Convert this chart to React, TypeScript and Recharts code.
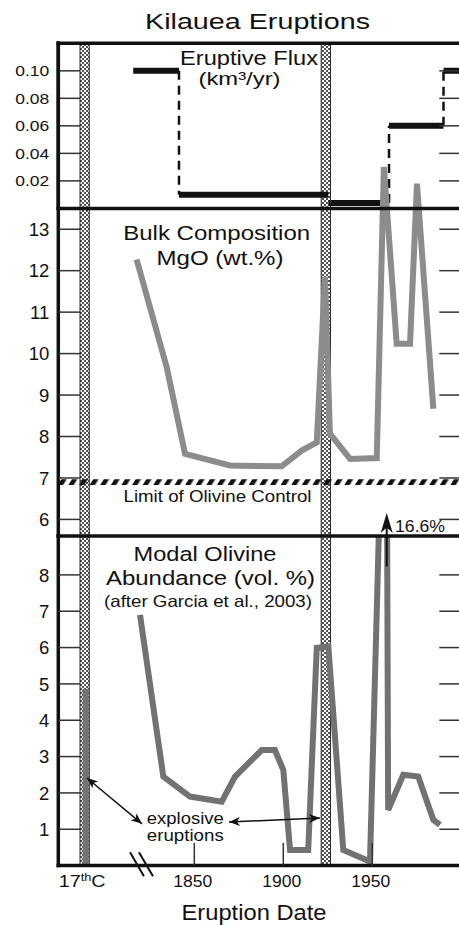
import { LineChart, Line, XAxis, YAxis, ReferenceLine, ReferenceArea } from "recharts";

// eruptive flux, km3/yr (step function)
const fluxStart = [1815.7, 1841.4, 1925.3, 1959.4, 1990.0];
const fluxEnd = [1841.4, 1925.3, 1956.0, 1990.0, 2000];
const fluxRate = [0.1, 0.01, 0.004, 0.06, 0.1];
const jumpYear = [1841.4, 1959.4, 1990.0];
const jumpFrom = [0.1, 0.004, 0.06];
const jumpTo = [0.01, 0.06, 0.1];

// bulk composition MgO (wt.%)
const mgoYear = [1817.6, 1834.5, 1844.8, 1870.0, 1899.1, 1910.3, 1918.8, 1923.4, 1926.2, 1937.5, 1952.5, 1956.5, 1963.7, 1971.2, 1975.1, 1984.3];
const mgoValue = [12.27, 9.67, 7.58, 7.3, 7.28, 7.66, 7.86, 11.85, 8.07, 7.46, 7.48, 14.5, 10.24, 10.24, 14.1, 8.67];

// modal olivine abundance (vol.%)
const olivYear = [1819.5, 1832.6, 1847.6, 1865.4, 1872.9, 1887.9, 1895.3, 1900.0, 1903.8, 1914.0, 1918.8, 1925.3, 1933.7, 1948.7, 1957.8, 1958.9, 1967.4, 1975.8, 1984.3, 1988.0];
const olivValue = [6.9, 2.45, 1.9, 1.76, 2.45, 3.18, 3.18, 2.63, 0.43, 0.43, 5.99, 6.03, 0.43, 0.11, 16.6, 1.53, 2.5, 2.45, 1.26, 1.12];
const c17Year = 1789;
const c17Olivine = 4.87;

// explosive eruptions (stippled bands)
const explosiveYear = [1788.4, 1923.9];
const olivineLimit = 6.9;

const fluxTicks = [0.02, 0.04, 0.06, 0.08, 0.1];
const mgoTicks = [6, 7, 8, 9, 10, 11, 12, 13];
const olivTicks = [1, 2, 3, 4, 5, 6, 7, 8];
const yearTicks = [1787, 1850, 1900, 1950];

const fluxData = fluxStart.flatMap((s, i) => [
  { year: s, v: fluxRate[i] },
  { year: fluxEnd[i], v: fluxRate[i] },
  { year: fluxEnd[i], v: null },
]);
const jumpData = jumpYear.flatMap((y, i) => [
  { year: y, v: jumpFrom[i] },
  { year: y, v: jumpTo[i] },
  { year: y, v: null },
]);
const mgoData = mgoYear.map((year, i) => ({ year, v: mgoValue[i] }));
const olivData = olivYear.map((year, i) => ({ year, v: olivValue[i] }));
const c17Data = [{ year: c17Year, v: 0 }, { year: c17Year, v: c17Olivine }];

const W = 470;
const H = 925;
const LEFT = 58.3;
const RIGHT = 461.3;
const TOP = 43.3;
const DIV1 = 208.4;
const DIV2 = 536;
const BOTTOM = 865.6;
const X_DOMAIN: [number, number] = [1773.6, 2000];
const FONT = "'Liberation Sans', Arial, Helvetica, sans-serif";
const INK = "#111";
const BAND_HALF = 2.6;

function YTick(props: any) {
  const { y, payload, digits, size, len } = props;
  return (
    <g>
      <line x1={LEFT} x2={LEFT + 22} y1={y} y2={y} stroke="#333" strokeWidth={1.5} />
      <line x1={RIGHT - 22} x2={RIGHT} y1={y} y2={y} stroke="#333" strokeWidth={1.5} />
      <text
        x={LEFT - 9}
        y={y}
        dy="0.36em"
        textAnchor="end"
        fontSize={size}
        fontFamily={FONT}
        fill={INK}
        textLength={len}
        lengthAdjust={len ? "spacingAndGlyphs" : undefined}
      >
        {payload.value.toFixed(digits)}
      </text>
    </g>
  );
}

function XTick(props: any) {
  const { x, y, payload } = props;
  const v = payload.value;
  if (v < 1800) {
    return (
      <text x={x} y={y + 21.4} textAnchor="middle" fontSize={17} fontFamily={FONT} fill={INK} textLength={47} lengthAdjust="spacingAndGlyphs">
        17<tspan dy={-6} fontSize={11}>th</tspan><tspan dy={6}>C</tspan>
      </text>
    );
  }
  return (
    <g>
      <line x1={x} x2={x} y1={y - 22.7} y2={y} stroke="#333" strokeWidth={1.5} />
      <text x={x - 1.5} y={y + 21.4} textAnchor="middle" fontSize={17} fontFamily={FONT} fill={INK} textLength={39} lengthAdjust="spacingAndGlyphs">
        {v}
      </text>
    </g>
  );
}

function head(tx: number, ty: number, fx: number, fy: number, len: number, half: number) {
  const d = Math.hypot(tx - fx, ty - fy);
  const ux = (tx - fx) / d;
  const uy = (ty - fy) / d;
  const bx = tx - ux * len;
  const by = ty - uy * len;
  const nx = tx - ux * len * 0.72;
  const ny = ty - uy * len * 0.72;
  return `${tx},${ty} ${bx - uy * half},${by + ux * half} ${nx},${ny} ${bx + uy * half},${by - ux * half}`;
}

const DoubleArrow = (p: any) => (
  <g>
    <line x1={p.x1} y1={p.y1} x2={p.x2} y2={p.y2} stroke={INK} strokeWidth={1.5} />
    <polygon points={head(p.x1, p.y1, p.x2, p.y2, 11, 4.5)} fill={INK} />
    <polygon points={head(p.x2, p.y2, p.x1, p.y1, 11, 4.5)} fill={INK} />
  </g>
);

const PeakArrow = (p: any) => (
  <g>
    <line x1={p.x1} y1={p.y1} x2={p.x2} y2={p.y2 + 8} stroke={INK} strokeWidth={2} />
    <polygon points={head(p.x2, p.y2, p.x1, p.y1, 20, 6)} fill={INK} />
    <text x={p.x2 + 8.3} y={p.y2 + 18.4} fontSize={17} fontFamily={FONT} fill={INK} textLength={50} lengthAdjust="spacingAndGlyphs">
      16.6%
    </text>
  </g>
);

function Label({ x, y, size, len, children }: any) {
  return (
    <text x={x} y={y} fontSize={size} textAnchor="middle" fontFamily={FONT} fill={INK} textLength={len} lengthAdjust="spacingAndGlyphs">
      {children}
    </text>
  );
}

const border = { stroke: INK, strokeWidth: 3.5, strokeLinecap: "square" as const };

const layer: React.CSSProperties = { position: "absolute", left: 0, top: 0 };

export default function App() {
  return (
    <div style={{ position: "absolute", left: 0, top: 0, width: 459, height: 925, overflow: "hidden", background: "#fff" }}>
      <svg width={0} height={0} style={{ position: "absolute" }}>
        <defs>
          <pattern id="stipple" patternUnits="userSpaceOnUse" width={4} height={4}>
            <rect width={4} height={4} fill="#fff" />
            <circle cx={1} cy={1} r={1} fill="#1a1a1a" />
            <circle cx={3} cy={3} r={1} fill="#1a1a1a" />
          </pattern>
          <pattern id="hatch" patternUnits="userSpaceOnUse" width={9} height={10} patternTransform="rotate(32)">
            <rect x={0} y={0} width={4.5} height={10} fill={INK} />
          </pattern>
        </defs>
      </svg>

      {/* explosive eruption bands, bottom layer across all panels */}
      <div style={layer}>
        <LineChart width={W} height={H} margin={{ top: TOP, right: W - RIGHT, bottom: H - BOTTOM, left: LEFT }}>
          <XAxis type="number" dataKey="year" domain={X_DOMAIN} allowDataOverflow hide />
          <YAxis type="number" domain={[0, 1]} allowDataOverflow hide />
          {explosiveYear.map((yr, i) => (
            <ReferenceArea
              key={i}
              x1={yr - BAND_HALF}
              x2={yr + BAND_HALF}
              fill="url(#stipple)"
              fillOpacity={1}
              stroke="#222"
              strokeWidth={1}
            />
          ))}
        </LineChart>
      </div>

      {/* eruptive flux */}
      <div style={layer}>
        <LineChart width={W} height={H} margin={{ top: TOP, right: W - RIGHT, bottom: H - DIV1, left: 0 }}>
          <XAxis type="number" dataKey="year" domain={X_DOMAIN} allowDataOverflow hide />
          <YAxis
            type="number"
            domain={[0, 0.12]}
            allowDataOverflow
            width={LEFT}
            ticks={fluxTicks}
            interval={0}
            tickSize={0}
            tickMargin={0}
            tickLine={false}
            axisLine={border}
            tick={<YTick digits={2} size={14.5} len={34} />}
          />
          <Line data={jumpData} dataKey="v" type="linear" stroke={INK} strokeWidth={2.5} strokeDasharray="9 6" dot={false} activeDot={false} isAnimationActive={false} />
          <Line data={fluxData} dataKey="v" type="linear" stroke={INK} strokeWidth={6} dot={false} activeDot={false} isAnimationActive={false} />
        </LineChart>
      </div>

      {/* bulk MgO */}
      <div style={layer}>
        <LineChart width={W} height={H} margin={{ top: TOP, right: W - RIGHT, bottom: H - DIV2, left: 0 }}>
          <XAxis type="number" dataKey="year" domain={X_DOMAIN} allowDataOverflow hide />
          <YAxis
            type="number"
            domain={[5.6, 17.485]}
            allowDataOverflow
            width={LEFT}
            ticks={mgoTicks}
            interval={0}
            tickSize={0}
            tickMargin={0}
            tickLine={false}
            axisLine={border}
            tick={<YTick digits={0} size={18.5} />}
          />
          <ReferenceArea y1={olivineLimit - 0.07} y2={olivineLimit + 0.07} fill="url(#hatch)" fillOpacity={1} stroke="none" />
          <Line data={mgoData} dataKey="v" type="linear" stroke="#8c8c8c" strokeWidth={6} dot={false} activeDot={false} isAnimationActive={false} />
          <ReferenceLine y={17.485} {...border} />
          <ReferenceLine y={13.5} {...border} />
        </LineChart>
      </div>

      {/* modal olivine */}
      <div style={layer}>
        <LineChart width={W} height={H} margin={{ top: DIV2, right: W - RIGHT, bottom: 0, left: 0 }}>
          <XAxis
            type="number"
            dataKey="year"
            domain={X_DOMAIN}
            allowDataOverflow
            ticks={yearTicks}
            interval={0}
            height={H - BOTTOM}
            tickSize={0}
            tickMargin={0}
            tickLine={false}
            axisLine={border}
            tick={<XTick />}
          />
          <YAxis
            type="number"
            domain={[0, 9.07]}
            allowDataOverflow
            width={LEFT}
            ticks={olivTicks}
            interval={0}
            tickSize={0}
            tickMargin={0}
            tickLine={false}
            axisLine={border}
            tick={<YTick digits={0} size={18.5} />}
          />
          <Line data={olivData} dataKey="v" type="linear" stroke="#727272" strokeWidth={6} dot={false} activeDot={false} isAnimationActive={false} />
          <Line data={c17Data} dataKey="v" type="linear" stroke="#747474" strokeWidth={6} dot={false} activeDot={false} isAnimationActive={false} />
          <ReferenceLine y={9.07} {...border} />
          <ReferenceLine segment={[{ x: 1789.7, y: 2.41 }, { x: 1820.6, y: 1.15 }]} ifOverflow="visible" shape={DoubleArrow} />
          <ReferenceLine segment={[{ x: 1869.5, y: 1.2 }, { x: 1920.6, y: 1.31 }]} ifOverflow="visible" shape={DoubleArrow} />
          <ReferenceLine segment={[{ x: 1958.1, y: 8.23 }, { x: 1958.1, y: 9.7 }]} ifOverflow="visible" shape={PeakArrow} />
          <ReferenceLine segment={[{ x: 1813.9, y: 0.37 }, { x: 1821.7, y: -0.29 }]} ifOverflow="visible" stroke={INK} strokeWidth={2} />
          <ReferenceLine segment={[{ x: 1818.9, y: 0.37 }, { x: 1826.8, y: -0.29 }]} ifOverflow="visible" stroke={INK} strokeWidth={2} />
        </LineChart>
      </div>

      <svg width={459} height={925} style={{ ...layer, pointerEvents: "none" }}>
        <Label x={257.5} y={29} size={22} len={225}>Kilauea Eruptions</Label>
        <Label x={249} y={65} size={20} len={138}>Eruptive Flux</Label>
        <Label x={239.5} y={84.5} size={19} len={82}>(km³/yr)</Label>
        <Label x={216.7} y={240} size={21} len={187}>Bulk Composition</Label>
        <Label x={220} y={265} size={21} len={127}>MgO (wt.%)</Label>
        <Label x={217.5} y={501.5} size={17} len={188}>Limit of Olivine Control</Label>
        <Label x={205} y={560.5} size={20.5} len={143}>Modal Olivine</Label>
        <Label x={210.5} y={585} size={20.5} len={209}>Abundance (vol. %)</Label>
        <Label x={208} y={606.5} size={16.5} len={208}>(after Garcia et al., 2003)</Label>
        <Label x={185.3} y={823.5} size={16.5} len={77}>explosive</Label>
        <Label x={185.3} y={841} size={16.5} len={77}>eruptions</Label>
        <Label x={254} y={920} size={22.5} len={145}>Eruption Date</Label>
      </svg>
    </div>
  );
}
